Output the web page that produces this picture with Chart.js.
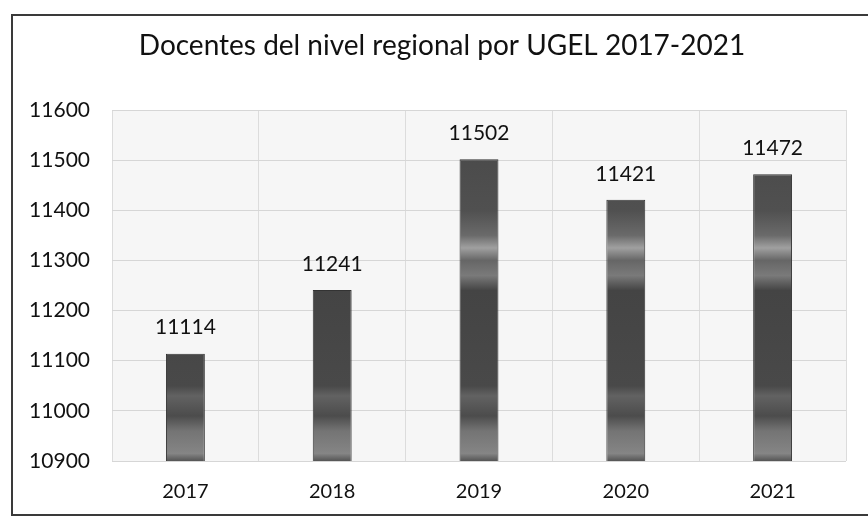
<!DOCTYPE html>
<html>
<head>
<meta charset="utf-8">
<script src="https://cdn.jsdelivr.net/npm/chart.js@4"></script>
<style>
  body { margin: 0; background: #fff; }
  #wrap { position: relative; width: 868px; height: 520px; overflow: hidden; }
  #frame { position: absolute; left: 11px; top: 14px; width: 900px; height: 502px;
           border: 2px solid #3a3a3a; box-sizing: border-box; pointer-events: none; }
  canvas { position: absolute; left: 0; top: 0; }
</style>
</head>
<body>
<div id="wrap">
  <canvas id="docentesChart" width="868" height="520"></canvas>
  <div id="frame"></div>
</div>
<script>
// Docentes del nivel regional por UGEL
var years = ['2017', '2018', '2019', '2020', '2021'];
var docentes = [11114, 11241, 11502, 11421, 11472];
var yMin = 10900;
var yMax = 11600;
var yStep = 100;
var titulo = 'Docentes del nivel regional por UGEL 2017-2021';

var fontName = 'Lato, "Open Sans", sans-serif';

// fondo gris claro del area de trazado + titulo
var plotBg = {
    id: 'plotBg',
    beforeDraw: function (chart) {
        var a = chart.chartArea, ctx = chart.ctx;
        ctx.save();
        ctx.fillStyle = '#f6f6f6';
        ctx.fillRect(a.left, a.top, a.right - a.left, a.bottom - a.top);
        ctx.font = '28px ' + fontName;
        ctx.fillStyle = '#111';
        ctx.textAlign = 'center';
        ctx.textBaseline = 'middle';
        ctx.fillText(titulo, 442, 46);
        ctx.restore();
    }
};

// etiquetas de valor encima de cada barra
var valueLabels = {
    id: 'valueLabels',
    afterDatasetsDraw: function (chart) {
        var ctx = chart.ctx;
        var meta = chart.getDatasetMeta(0);
        ctx.save();
        ctx.font = '21px ' + fontName;
        ctx.fillStyle = '#111';
        ctx.textAlign = 'center';
        ctx.textBaseline = 'middle';
        meta.data.forEach(function (bar, i) {
            ctx.fillText(docentes[i], bar.x, bar.y - 26);
        });
        ctx.restore();
    }
};

// degradado gris de las barras (segun valores del eje)
function barFill(context) {
    var chart = context.chart;
    var a = chart.chartArea;
    if (!a) return '#555';
    var y = chart.scales.y;
    var g = chart.ctx.createLinearGradient(0, a.top, 0, a.bottom);
    function stop(v, c) {
        var t = (y.getPixelForValue(v) - a.top) / (a.bottom - a.top);
        g.addColorStop(Math.min(1, Math.max(0, t)), c);
    }
    stop(11600, '#474747');
    stop(11400, '#505050');
    stop(11350, '#6a6a6a');
    stop(11325, '#a0a0a0');
    stop(11300, '#666666');
    stop(11270, '#7a7a7a');
    stop(11240, '#444444');
    stop(11050, '#494949');
    stop(11030, '#626262');
    stop(10990, '#4c4c4c');
    stop(10960, '#747474');
    stop(10915, '#858585');
    stop(10900, '#555555');
    return g;
}

var ctx = document.getElementById('docentesChart').getContext('2d');
var docentesChart = new Chart(ctx, {
    type: 'bar',
    data: {
        labels: years,
        datasets: [{
            data: docentes,
            backgroundColor: barFill,
            borderColor: '#333',
            borderWidth: 1,
            barPercentage: 0.265,
            categoryPercentage: 1
        }]
    },
    options: {
        responsive: false,
        animation: false,
        layout: { padding: { left: 0, right: 22, top: 110, bottom: 0 } },
        plugins: {
            legend: { display: false },
            tooltip: { enabled: false },
            title: { display: false }
        },
        scales: {
            x: {
                grid: { color: '#dcdcdc', drawTicks: false, offset: true },
                border: { display: false },
                ticks: { color: '#111', padding: 19, font: { family: fontName, size: 20 } },
                afterFit: function (scale) { scale.height = 59; }
            },
            y: {
                min: yMin,
                max: yMax,
                ticks: {
                    stepSize: yStep, color: '#111', padding: 22,
                    font: { family: fontName, size: 21 },
                    callback: function (v) { return String(v); }
                },
                grid: { color: '#d6d6d6', drawTicks: false },
                border: { display: false },
                afterFit: function (scale) { scale.width = 112; }
            }
        }
    },
    plugins: [plotBg, valueLabels]
});
</script>
</body>
</html>
